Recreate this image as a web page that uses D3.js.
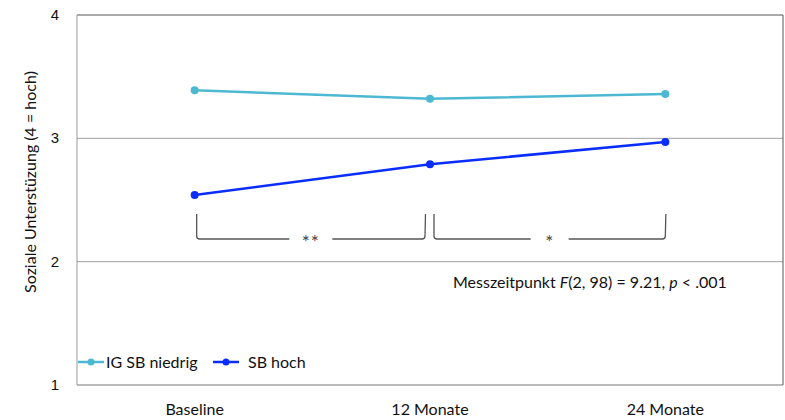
<!DOCTYPE html>
<html><head><meta charset="utf-8">
<script src="https://cdn.jsdelivr.net/npm/d3@7"></script>
<style>body{margin:0;background:#fff}svg{display:block}text{font-family:Lato,"Open Sans",sans-serif}</style>
</head><body><svg id="c" width="785" height="420"></svg>
<script>
const categories = ["Baseline", "12 Monate", "24 Monate"];
const seriesNames = ["IG SB niedrig", "SB hoch"];
const igNiedrig = [3.39, 3.32, 3.36];
const sbHoch = [2.54, 2.79, 2.97];
const yTicks = [1, 2, 3, 4];
const seriesColors = ["#4db8d2", "#0a2dff"];

const svg = d3.select("#c");
const L = 77, T = 15, R = 783, B = 385;
const x = d3.scaleBand().domain(categories).range([L, R]);
const xc = d => x(d) + x.bandwidth() / 2;
const y = d3.scaleLinear().domain([1, 4]).range([B, T]);

// gridlines
svg.append("g").selectAll("line").data([2, 3]).join("line")
  .attr("x1", L).attr("x2", R).attr("y1", d => y(d)).attr("y2", d => y(d))
  .attr("stroke", "#a0a0a0").attr("stroke-width", 1);

// frame
svg.append("line").attr("x1", L).attr("x2", R).attr("y1", T).attr("y2", T).attr("stroke", "#555");
svg.append("line").attr("x1", R).attr("x2", R).attr("y1", T).attr("y2", B).attr("stroke", "#555");
svg.append("line").attr("x1", L).attr("x2", R).attr("y1", B).attr("y2", B).attr("stroke", "#777");
svg.append("line").attr("x1", L).attr("x2", L).attr("y1", T).attr("y2", B).attr("stroke", "#999");

// y tick labels
svg.append("g").selectAll("text").data(yTicks).join("text")
  .attr("x", 59).attr("y", d => y(d) + 5).attr("text-anchor", "end")
  .attr("font-size", 15).attr("fill", "#111").style("font-family", "'Liberation Sans',Arial,sans-serif")
  .text(d => d);

// x tick labels
svg.append("g").selectAll("text").data(categories).join("text")
  .attr("x", d => xc(d)).attr("y", 415).attr("text-anchor", "middle")
  .attr("font-size", 16).attr("fill", "#111").text(d => d);

// y axis title
svg.append("text").attr("transform", "translate(36,182) rotate(-90)")
  .attr("text-anchor", "middle").attr("font-size", 16).attr("fill", "#111")
  .text("Soziale Unterstüzung (4 = hoch)");

// series
const series = [igNiedrig, sbHoch];
const line = d3.line().x((d, i) => xc(categories[i])).y(d => y(d));
series.forEach((s, k) => {
  svg.append("path").datum(s).attr("d", line).attr("fill", "none")
    .attr("stroke", seriesColors[k]).attr("stroke-width", 2.5);
  svg.append("g").selectAll("circle").data(s).join("circle")
    .attr("cx", (d, i) => xc(categories[i])).attr("cy", d => y(d)).attr("r", 4)
    .attr("fill", seriesColors[k]);
});

// significance brackets
const brackets = [
  {from: 0, to: 1, label: "**", gap: 21.5},
  {from: 1, to: 2, label: "*", gap: 19}
];
const by0 = 214, by1 = 239;
brackets.forEach(b => {
  const x0 = xc(categories[b.from]) + (b.from === 0 ? 2 : 4);
  const x1 = xc(categories[b.to]) - (b.to === 1 ? 5 : 0);
  const mid = (x0 + x1) / 2;
  const gap = b.gap;
  const g = svg.append("g").attr("fill", "none").attr("stroke", "#555").attr("stroke-width", 1.3);
  g.append("path").attr("d", `M${x0},${by0} L${x0},${by1 - 3} Q${x0},${by1} ${x0 + 3},${by1} L${mid - gap},${by1}`);
  g.append("path").attr("d", `M${mid + gap},${by1} L${x1 - 3},${by1} Q${x1},${by1} ${x1},${by1 - 3} L${x1 + 0.5},${by0}`);
  svg.append("text").attr("x", mid).attr("y", by1 + 10).attr("text-anchor", "middle")
    .attr("font-size", 19).attr("fill", "#444").style("letter-spacing", "1px").text(b.label);
});

// annotation
const ann = svg.append("text").attr("x", 453).attr("y", 288).attr("font-size", 16).attr("fill", "#111");
ann.append("tspan").text("Messzeitpunkt ");
ann.append("tspan").attr("font-style", "italic").text("F");
ann.append("tspan").text("(2, 98) = 9.21, ");
ann.append("tspan").attr("font-style", "italic").text("p");
ann.append("tspan").text(" < .001");

// legend
const legX = [78, 213];
seriesNames.forEach((n, k) => {
  const lx = legX[k], ly = 362;
  svg.append("line").attr("x1", lx).attr("x2", lx + 26).attr("y1", ly).attr("y2", ly)
    .attr("stroke", seriesColors[k]).attr("stroke-width", 2.5);
  svg.append("circle").attr("cx", lx + 13).attr("cy", ly).attr("r", 3.5).attr("fill", seriesColors[k]);
  svg.append("text").attr("x", lx + (k === 1 ? 35 : 28)).attr("y", ly + 6).attr("font-size", 16)
    .attr("fill", "#111").text(n);
});
</script></body></html>
